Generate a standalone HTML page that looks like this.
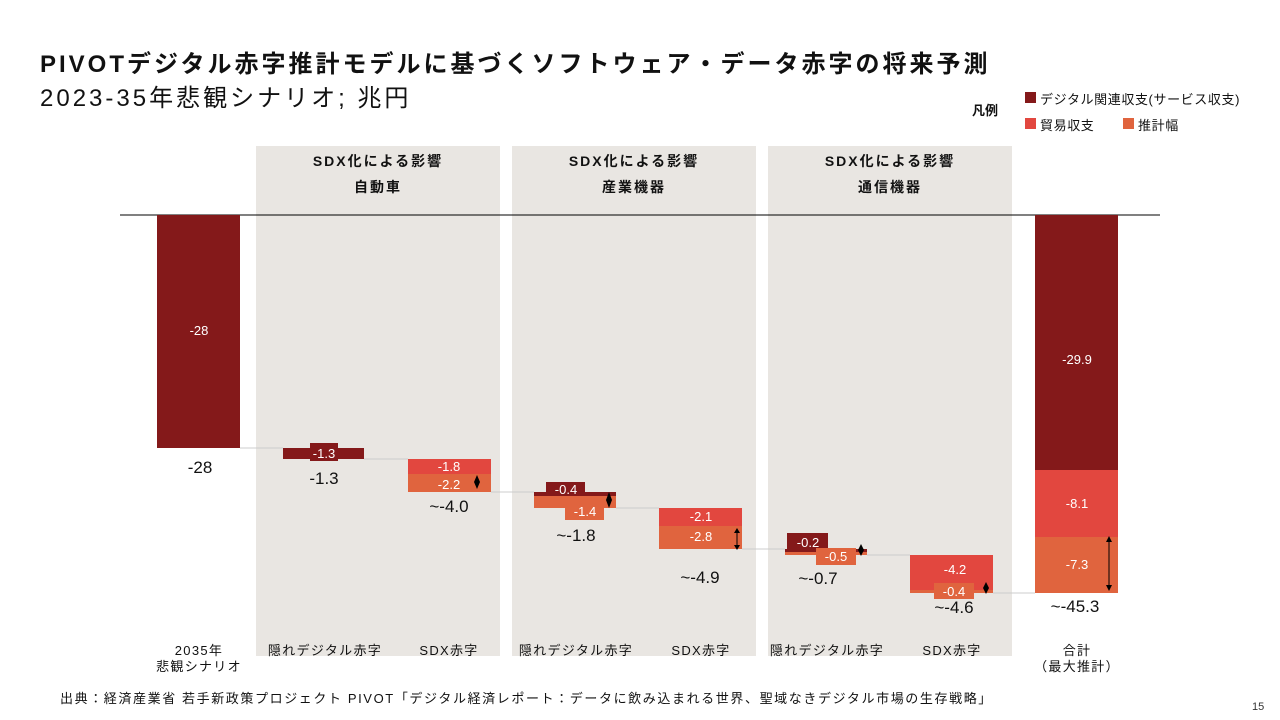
<!DOCTYPE html>
<html><head><meta charset="utf-8"><style>
body{margin:0;width:1280px;height:720px;background:#fff;position:relative;overflow:hidden;font-family:"Liberation Sans","Noto Sans CJK JP",sans-serif;color:#111}
.a{position:absolute}
</style></head><body>
<div class="a" style="left:40px;top:44px;font-size:24px;font-weight:bold;white-space:nowrap;letter-spacing:3px">PIVOTデジタル赤字推計モデルに基づくソフトウェア・データ赤字の将来予測</div>
<div class="a" style="left:40px;top:78px;font-size:24px;white-space:nowrap;letter-spacing:3px">2023-35年悲観シナリオ; 兆円</div>
<div class="a" style="left:972px;top:100px;font-size:13px;font-weight:bold">凡例</div>
<div class="a" style="left:1025px;top:92px;width:11px;height:11px;background:#84191a"></div>
<div class="a" style="left:1040px;top:89px;font-size:13px;white-space:nowrap;letter-spacing:0.6px">デジタル関連収支(サービス収支)</div>
<div class="a" style="left:1025px;top:118px;width:11px;height:11px;background:#e2473f"></div>
<div class="a" style="left:1040px;top:115px;font-size:13px;letter-spacing:0.6px">貿易収支</div>
<div class="a" style="left:1123px;top:118px;width:11px;height:11px;background:#e0643e"></div>
<div class="a" style="left:1138px;top:115px;font-size:13px;letter-spacing:0.6px">推計幅</div>
<svg class="a" style="left:0;top:0" width="1280" height="720" font-family="Liberation Sans, Noto Sans CJK JP, sans-serif">
<g fill="#e9e6e2"><rect x="256" y="146" width="244" height="510"/><rect x="512" y="146" width="244" height="510"/><rect x="768" y="146" width="244" height="510"/></g>
<g font-size="14" font-weight="bold" text-anchor="middle" fill="#111" letter-spacing="2">
<text x="378" y="166">SDX化による影響</text><text x="378" y="192">自動車</text>
<text x="634" y="166">SDX化による影響</text><text x="634" y="192">産業機器</text>
<text x="890" y="166">SDX化による影響</text><text x="890" y="192">通信機器</text></g>
<g stroke="#ccc" stroke-width="1"><line x1="240" y1="448" x2="283" y2="448"/><line x1="364" y1="459" x2="408" y2="459"/><line x1="491" y1="492" x2="534" y2="492"/><line x1="616" y1="508" x2="659" y2="508"/><line x1="742" y1="549" x2="785" y2="549"/><line x1="867" y1="555" x2="910" y2="555"/><line x1="993" y1="593" x2="1035" y2="593"/></g>
<line x1="120" y1="215" x2="1160" y2="215" stroke="#000" stroke-width="1"/>
<rect x="157" y="215" width="83" height="233" fill="#84191a"/>
<rect x="283" y="448" width="81" height="11" fill="#84191a"/>
<rect x="310" y="443" width="28" height="18" fill="#84191a"/>
<rect x="408" y="459" width="83" height="15" fill="#e2473f"/>
<rect x="408" y="474" width="83" height="18" fill="#e0643e"/>
<rect x="534" y="492" width="82" height="4" fill="#84191a"/>
<rect x="546" y="482" width="39" height="14" fill="#84191a"/>
<rect x="534" y="496" width="82" height="12" fill="#e0643e"/>
<rect x="565" y="498" width="39" height="22" fill="#e0643e"/>
<rect x="659" y="508" width="83" height="18" fill="#e2473f"/>
<rect x="659" y="526" width="83" height="23" fill="#e0643e"/>
<rect x="785" y="549" width="82" height="3" fill="#84191a"/>
<rect x="787" y="533" width="41" height="18" fill="#84191a"/>
<rect x="785" y="552" width="82" height="3" fill="#e0643e"/>
<rect x="816" y="548" width="40" height="17" fill="#e0643e"/>
<rect x="910" y="555" width="83" height="35" fill="#e2473f"/>
<rect x="910" y="590" width="83" height="3" fill="#e0643e"/>
<rect x="934" y="583" width="40" height="16" fill="#e0643e"/>
<rect x="1035" y="215" width="83" height="255" fill="#84191a"/>
<rect x="1035" y="470" width="83" height="67" fill="#e2473f"/>
<rect x="1035" y="537" width="83" height="56" fill="#e0643e"/>
<g fill="#fff" font-size="13" text-anchor="middle">
<text x="199" y="335">-28</text><text x="324" y="458">-1.3</text><text x="449" y="471">-1.8</text><text x="449" y="489">-2.2</text>
<text x="566" y="494">-0.4</text><text x="585" y="516">-1.4</text><text x="701" y="521">-2.1</text><text x="701" y="541">-2.8</text>
<text x="808" y="547">-0.2</text><text x="836" y="561">-0.5</text><text x="955" y="574">-4.2</text><text x="954" y="596">-0.4</text>
<text x="1077" y="364">-29.9</text><text x="1077" y="508">-8.1</text><text x="1077" y="569">-7.3</text></g>
<g fill="#000">
<path d="M477 475l-3 7 3 7 3-7z"/><path d="M609 492l-3 8 3 8 3-8z"/><path d="M861 544l-3 6 3 6 3-6z"/><path d="M986 582l-3 6 3 6 3-6z"/>
<line x1="737" y1="529" x2="737" y2="548" stroke="#000"/><path d="M734 533l3-5 3 5z M734 545l3 5 3-5z"/>
<line x1="1109" y1="537" x2="1109" y2="590" stroke="#000"/><path d="M1106 542l3-6 3 6z M1106 585l3 6 3-6z"/>
</g>
<g font-size="17" text-anchor="middle" fill="#111">
<text x="200" y="473">-28</text><text x="324" y="484">-1.3</text><text x="449" y="512">~-4.0</text><text x="576" y="541">~-1.8</text>
<text x="700" y="583">~-4.9</text><text x="818" y="584">~-0.7</text><text x="954" y="613">~-4.6</text><text x="1075" y="612">~-45.3</text></g>
<g font-size="13" text-anchor="middle" fill="#111" letter-spacing="1.3">
<text x="199" y="655">2035年</text><text x="199" y="671">悲観シナリオ</text>
<text x="325" y="655">隠れデジタル赤字</text><text x="449" y="655">SDX赤字</text>
<text x="576" y="655">隠れデジタル赤字</text><text x="701" y="655">SDX赤字</text>
<text x="827" y="655">隠れデジタル赤字</text><text x="952" y="655">SDX赤字</text>
<text x="1077" y="655">合計</text><text x="1077" y="671">（最大推計）</text></g>
<text x="60" y="703" font-size="13" fill="#111" letter-spacing="1.6">出典：経済産業省 若手新政策プロジェクト PIVOT「デジタル経済レポート：データに飲み込まれる世界、聖域なきデジタル市場の生存戦略」</text>
<text x="1252" y="710" font-size="11" fill="#333">15</text>
</svg>
</body></html>
